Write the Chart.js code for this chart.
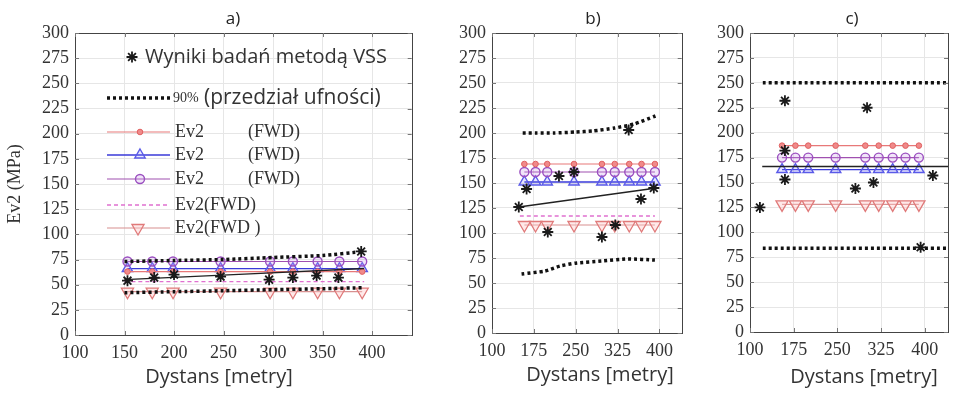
<!DOCTYPE html>
<html>
<head>
<meta charset="utf-8">
<script src="https://cdn.jsdelivr.net/npm/chart.js@4/dist/chart.umd.min.js"></script>
<style>
  html, body { margin: 0; padding: 0; background: #fff; }
  #wrap { position: relative; width: 957px; height: 394px; overflow: hidden; }
  canvas { position: absolute; top: 0; }
</style>
</head>
<body>
<div id="wrap">
  <canvas id="chartA" width="420" height="394" style="left:0px"></canvas>
  <canvas id="chartB" width="270" height="394" style="left:420px"></canvas>
  <canvas id="chartC" width="267" height="394" style="left:690px"></canvas>
</div>
<script>
// Tick labels
const X_TICKS_A = [100, 150, 200, 250, 300, 350, 400];
const X_TICKS_BC = [100, 175, 250, 325, 400];
const Y_TICKS = [0, 25, 50, 75, 100, 125, 150, 175, 200, 225, 250, 275, 300];

// Panel a)
const A_FWD_X = [153, 178, 199, 247, 297, 320, 345, 367, 390];
const A_RED = [63, 63, 63, 63, 63, 63, 63, 63, 63];
const A_BLUE = [66, 66, 66, 66, 66, 66, 66, 66, 66];
const A_PURPLE = [73, 73, 73, 73, 73, 73, 73, 73, 73];
const A_PINK_TRI = [43, 43, 43, 43, 43, 43, 43, 43, 43];
const A_DASH_X = [150, 392];
const A_DASH = [53, 53];
const A_FIT_X = [150, 392];
const A_FIT = [55, 66];
const A_CI_X = [150, 200, 250, 300, 350, 392];
const A_CI_UP = [73, 74, 75, 77, 79, 83];
const A_CI_LO = [42, 43, 44, 45, 46, 47];
const A_VSS_X = [153, 180, 200, 247, 296, 320, 344, 366, 389];
const A_VSS = [54, 57, 60, 58, 55, 57, 59, 57, 83];

// Panel b)
const B_FWD_X = [158, 178, 199, 247, 297, 320, 346, 368, 392];
const B_RED = [169, 169, 169, 169, 169, 169, 169, 169, 169];
const B_BLUE = [151, 151, 151, 151, 151, 151, 151, 151, 151];
const B_PURPLE = [161, 161, 161, 161, 161, 161, 161, 161, 161];
const B_PINK_TRI = [108, 108, 108, 108, 108, 108, 108, 108, 108];
const B_DASH_X = [150, 392];
const B_DASH = [117, 117];
const B_FIT_X = [148, 395];
const B_FIT = [126, 145];
const B_CI_UP_X = [155, 180, 210, 250, 280, 320, 355, 393];
const B_CI_UP = [200, 200, 200, 201, 202, 205, 209, 217];
const B_CI_LO_X = [153, 195, 222, 252, 298, 343, 392];
const B_CI_LO = [59, 62, 67, 70, 72, 74, 73];
const B_VSS_X = [148, 162, 200, 220, 247, 297, 321, 345, 367, 390];
const B_VSS = [126, 144, 101, 157, 161, 96, 108, 203, 134, 145];

// Panel c)
const C_FWD_X = [155, 178, 200, 247, 298, 321, 345, 367, 390];
const C_RED = [187, 187, 187, 187, 187, 187, 187, 187, 187];
const C_BLUE = [163, 163, 163, 163, 163, 163, 163, 163, 163];
const C_PURPLE = [175, 175, 175, 175, 175, 175, 175, 175, 175];
const C_PINK_TRI = [128, 128, 128, 128, 128, 128, 128, 128, 128];
const C_FIT_X = [121, 440];
const C_FIT = [166, 166];
const C_CI_X = [122, 440];
const C_CI_UP = [250, 250];
const C_CI_LO = [84, 84];
const C_VSS_X = [117, 160, 160, 160, 281, 301, 312, 393, 414];
const C_VSS = [125, 232, 182, 153, 144, 225, 150, 85, 157];

const SERIF = '"Liberation Serif", "DejaVu Serif", serif';
const SANS = '"Open Sans", "Noto Sans", sans-serif';
const TEXT_COLOR = '#333';

const STYLE = {
    vss: { showLine: false, pointStyle: 'star', pointRadius: 5.5, pointBorderColor: '#1a1a1a', pointBackgroundColor: '#1a1a1a', pointBorderWidth: 1.8 },
    ci: { borderColor: '#111', borderWidth: 3.5, borderDash: [3, 3], pointRadius: 0 },
    red: { borderColor: '#e87878', borderWidth: 1.2, pointStyle: 'circle', pointRadius: 2.8, pointBackgroundColor: '#f08a8a', pointBorderColor: '#e06060', pointBorderWidth: 1 },
    blue: { borderColor: '#3a3ad8', borderWidth: 1.3, pointStyle: 'triangle', pointRadius: 6, pointBackgroundColor: 'rgba(120,120,255,0.18)', pointBorderColor: '#5a5ae8', pointBorderWidth: 1.4 },
    purple: { borderColor: '#a050b0', borderWidth: 1.2, pointStyle: 'circle', pointRadius: 4.5, pointBackgroundColor: 'rgba(200,150,230,0.25)', pointBorderColor: '#9b4fc0', pointBorderWidth: 1.4 },
    pinkDash: { borderColor: '#e070d0', borderWidth: 1.3, borderDash: [4, 3], pointRadius: 0 },
    pinkTri: { borderColor: '#d89090', borderWidth: 1.2, pointStyle: 'triangle', pointRotation: 180, pointRadius: 7, pointBackgroundColor: 'rgba(255,200,200,0.4)', pointBorderColor: '#e07a7a', pointBorderWidth: 1.3 },
    fit: { borderColor: '#222', borderWidth: 1.4, pointRadius: 0 }
};

function pts(xs, ys) {
    return xs.map((x, i) => ({ x: x, y: ys[i] }));
}

function ds(label, style, xs, ys) {
    return Object.assign({ label: label, data: pts(xs, ys), tension: 0.2 }, STYLE[style]);
}

// Index 0 is drawn on top
function panelDatasets(p) {
    return [
        ds('Wyniki badań metodą VSS', 'vss', p.vssX, p.vss),
        ds('90% (przedział ufności)', 'ci', p.ciUpX, p.ciUp),
        ds('90% (przedział ufności)', 'ci', p.ciLoX, p.ciLo),
        ds('fit', 'fit', p.fitX, p.fit),
        ds('Ev2 (FWD)', 'red', p.fwdX, p.red),
        ds('Ev2 (FWD)', 'purple', p.fwdX, p.purple),
        ds('Ev2 (FWD)', 'blue', p.fwdX, p.blue),
        ds('Ev2(FWD)', 'pinkDash', p.dashX, p.dash),
        ds('Ev2(FWD)', 'pinkTri', p.fwdX, p.pinkTri)
    ].filter(d => d.data.length);
}

function scales(xTicks, yWidth, xHeight) {
    const font = { family: SERIF, size: 18 };
    return {
        x: {
            type: 'linear', min: 100, max: 440,
            afterBuildTicks: s => { s.ticks = xTicks.map(v => ({ value: v })); },
            ticks: { font: font, color: TEXT_COLOR, padding: 7, maxRotation: 0, autoSkip: false },
            grid: { color: '#e6e6e6', drawTicks: false },
            border: { color: '#444' },
            afterFit: s => { s.height = xHeight; }
        },
        y: {
            min: 0, max: 300,
            afterBuildTicks: s => { s.ticks = Y_TICKS.map(v => ({ value: v })); },
            ticks: { font: font, color: TEXT_COLOR, padding: 6, autoSkip: false },
            grid: { color: '#e6e6e6', drawTicks: false },
            border: { color: '#444' },
            afterFit: s => { s.width = yWidth; }
        }
    };
}

function drawText(ctx, t) {
    ctx.save();
    ctx.font = t.font;
    ctx.fillStyle = t.color || TEXT_COLOR;
    ctx.textAlign = t.align || 'left';
    ctx.textBaseline = 'middle';
    ctx.translate(t.x, t.y);
    if (t.rotate) ctx.rotate(t.rotate * Math.PI / 180);
    ctx.fillText(t.text, 0, 0);
    ctx.restore();
}

function drawSample(ctx, style, x0, x1, mx, y) {
    const s = STYLE[style];
    ctx.save();
    if (s.showLine !== false) {
        ctx.strokeStyle = s.borderColor;
        ctx.lineWidth = s.borderWidth;
        ctx.setLineDash(s.borderDash || []);
        ctx.beginPath();
        ctx.moveTo(x0, y);
        ctx.lineTo(x1, y);
        ctx.stroke();
    }
    if (s.pointRadius > 0) {
        ctx.setLineDash([]);
        ctx.fillStyle = s.pointBackgroundColor;
        ctx.strokeStyle = s.pointBorderColor;
        ctx.lineWidth = s.pointBorderWidth;
        Chart.helpers.drawPoint(ctx, {
            pointStyle: s.pointStyle, radius: s.pointRadius,
            rotation: s.pointRotation || 0, borderWidth: s.pointBorderWidth
        }, mx, y);
    }
    ctx.restore();
}

function framePlugin(texts, legend) {
    return {
        id: 'frame',
        afterDraw(chart) {
            const ctx = chart.ctx;
            const a = chart.chartArea;
            ctx.save();
            ctx.strokeStyle = '#444';
            ctx.lineWidth = 1;
            ctx.strokeRect(Math.round(a.left) + 0.5, Math.round(a.top) + 0.5,
                Math.round(a.right - a.left), Math.round(a.bottom - a.top));
            // MATLAB style inner ticks
            ctx.strokeStyle = '#777';
            ctx.beginPath();
            chart.scales.x.ticks.forEach(t => {
                const px = Math.round(chart.scales.x.getPixelForValue(t.value)) + 0.5;
                ctx.moveTo(px, a.top); ctx.lineTo(px, a.top + 4);
                ctx.moveTo(px, a.bottom); ctx.lineTo(px, a.bottom - 4);
            });
            chart.scales.y.ticks.forEach(t => {
                const py = Math.round(chart.scales.y.getPixelForValue(t.value)) + 0.5;
                ctx.moveTo(a.left, py); ctx.lineTo(a.left + 4, py);
                ctx.moveTo(a.right, py); ctx.lineTo(a.right - 4, py);
            });
            ctx.stroke();
            ctx.restore();

            (legend || []).forEach(e => {
                drawSample(ctx, e.style, e.x0, e.x1, e.mx, e.y);
                e.text.forEach(t => drawText(ctx, { text: t[0], x: t[1], y: e.y, font: t[2] }));
            });
            texts.forEach(t => drawText(ctx, t));
        }
    };
}

function makeChart(id, p, xTicks, yWidth, xHeight, padRight, texts, legend) {
    new Chart(document.getElementById(id), {
        type: 'line',
        data: { datasets: panelDatasets(p) },
        options: {
            responsive: false,
            animation: false,
            layout: { padding: { top: 33, right: padRight, left: 0, bottom: 0 } },
            scales: scales(xTicks, yWidth, xHeight),
            plugins: { legend: { display: false }, tooltip: { enabled: false } }
        },
        plugins: [framePlugin(texts, legend)]
    });
}

const LEGEND_A = [
    { style: 'vss', x0: 0, x1: 0, mx: 132, y: 57, text: [['Wyniki badań metodą VSS', 145, '20px ' + SANS]] },
    { style: 'ci', x0: 107, x1: 170, mx: 0, y: 98, text: [['90%', 173, '14px ' + SERIF], ['(przedział ufności)', 204, '21px ' + SANS]] },
    { style: 'red', x0: 107, x1: 170, mx: 140, y: 132, text: [['Ev2', 175, '18px ' + SERIF], ['(FWD)', 248, '18px ' + SERIF]] },
    { style: 'blue', x0: 107, x1: 170, mx: 140, y: 155, text: [['Ev2', 175, '18px ' + SERIF], ['(FWD)', 248, '18px ' + SERIF]] },
    { style: 'purple', x0: 107, x1: 170, mx: 140, y: 179, text: [['Ev2', 175, '18px ' + SERIF], ['(FWD)', 248, '18px ' + SERIF]] },
    { style: 'pinkDash', x0: 107, x1: 170, mx: 0, y: 205, text: [['Ev2(FWD)', 175, '18px ' + SERIF]] },
    { style: 'pinkTri', x0: 107, x1: 170, mx: 138, y: 228, text: [['Ev2(FWD )', 175, '18px ' + SERIF]] }
];

const PANEL_A = {
    vssX: A_VSS_X, vss: A_VSS, ciUpX: A_CI_X, ciUp: A_CI_UP, ciLoX: A_CI_X, ciLo: A_CI_LO,
    fitX: A_FIT_X, fit: A_FIT, fwdX: A_FWD_X, red: A_RED, purple: A_PURPLE, blue: A_BLUE,
    dashX: A_DASH_X, dash: A_DASH, pinkTri: A_PINK_TRI
};
const PANEL_B = {
    vssX: B_VSS_X, vss: B_VSS, ciUpX: B_CI_UP_X, ciUp: B_CI_UP, ciLoX: B_CI_LO_X, ciLo: B_CI_LO,
    fitX: B_FIT_X, fit: B_FIT, fwdX: B_FWD_X, red: B_RED, purple: B_PURPLE, blue: B_BLUE,
    dashX: B_DASH_X, dash: B_DASH, pinkTri: B_PINK_TRI
};
const PANEL_C = {
    vssX: C_VSS_X, vss: C_VSS, ciUpX: C_CI_X, ciUp: C_CI_UP, ciLoX: C_CI_X, ciLo: C_CI_LO,
    fitX: C_FIT_X, fit: C_FIT, fwdX: C_FWD_X, red: C_RED, purple: C_PURPLE, blue: C_BLUE,
    dashX: [], dash: [], pinkTri: C_PINK_TRI
};

makeChart('chartA', PANEL_A, X_TICKS_A, 75, 59, 8, [
    { text: 'a)', x: 233, y: 19, font: '17px ' + SANS, align: 'center', color: '#222' },
    { text: 'Dystans [metry]', x: 219, y: 377, font: '20px ' + SANS, align: 'center' },
    { text: 'Ev2 (MPa)', x: 15, y: 184, font: '18px ' + SERIF, align: 'center', rotate: -90 }
], LEGEND_A);

makeChart('chartB', PANEL_B, X_TICKS_BC, 72, 61, 2, [
    { text: 'b)', x: 173, y: 19, font: '17px ' + SANS, align: 'center', color: '#222' },
    { text: 'Dystans [metry]', x: 180, y: 375, font: '20px ' + SANS, align: 'center' }
]);

makeChart('chartC', PANEL_C, X_TICKS_BC, 60, 62, 9, [
    { text: 'c)', x: 162, y: 19, font: '17px ' + SANS, align: 'center', color: '#222' },
    { text: 'Dystans [metry]', x: 174, y: 377, font: '20px ' + SANS, align: 'center' }
]);
</script>
</body>
</html>
